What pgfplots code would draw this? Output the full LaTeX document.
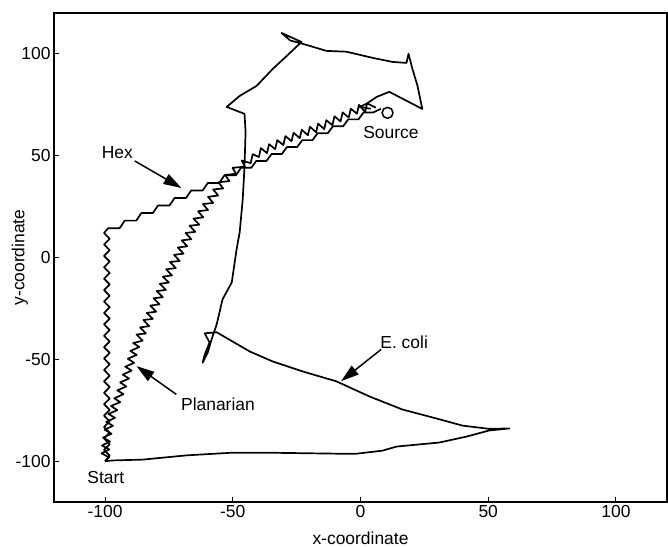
\documentclass[border=0pt]{standalone}
\usepackage{fontspec}
\setmainfont{Liberation Sans}
\usepackage{pgfplots}
\pgfplotsset{compat=1.18}
\usetikzlibrary{arrows.meta}
\begin{document}
\begin{tikzpicture}[font=\fontsize{17.5}{20}\selectfont]
\path[use as bounding box] (-54bp,-45bp) rectangle (614bp,502bp);
\begin{axis}[
  scale only axis, width=613bp, height=489bp,
  xmin=-120, xmax=120, ymin=-120, ymax=120,
  xtick={-100,-50,0,50,100}, ytick={-100,-50,0,50,100},
  tick pos=left, tick align=inside, major tick length=5bp,
  axis line style={line width=1.2pt},
  tick style={line width=1pt, black},
  /pgf/number format/assume math mode=true,
  tick label style={font=\fontsize{17.5}{20}\selectfont},
  xlabel={x-coordinate}, ylabel={y-coordinate},
  label style={font=\fontsize{17.5}{20}\selectfont},
  xlabel style={at={(axis description cs:0.5,-0.074)}, anchor=center},
  ylabel style={at={(axis description cs:-0.0555,0.5)}, anchor=center},
  every axis plot/.append style={black, line width=1.7pt, line join=round},
]
% E. coli
\addplot[no marks] coordinates {
(-100,-100) (-97,-99.6) (-85.3,-99.2) (-68,-97.1) (-50.1,-95.8) (-36.8,-95.8)
(-8.2,-96.3) (-1.6,-96.3) (8.6,-94.8) (14.1,-92.8) (30.9,-90.8) (41.5,-87.9)
(50.4,-84.9) (58.3,-83.9) (50.4,-84.1) (39.9,-82.5) (29.7,-79.0) (16.4,-74.6)
(3.5,-68.2) (-9.4,-60.8) (-22.7,-55.9) (-34.4,-51.0) (-43.4,-46.1) (-56.3,-36.7)
(-61.0,-37.2) (-59.1,-41.7) (-61.0,-47.7) (-61.8,-51.6) (-59.8,-46.6) (-58.3,-40.2)
(-56.3,-32.8) (-54.0,-20.5) (-50.4,-12.2) (-48.5,4.1) (-47.3,12.4) (-46.1,28.7)
(-45.4,44.9) (-45.0,61.6) (-45.4,70.5) (-52.4,73.9) (-47.3,79.3) (-40.7,84.2)
(-34.4,92.5) (-28.9,98.9) (-23.1,105.8) (-30.9,110.2) (-27.5,106.5) (-23.5,105.2)
(-13.3,101.4) (-5.5,101.0) (4.7,98.0) (12.5,96.0) (18.0,95.5) (18.8,100)
(20.3,92.7) (22.3,84.3) (24.2,72.9) (11.3,81.3) (6.3,78.8) (2.3,75.4) (-0.4,73.9) (4,73)
};
% Hex
\addplot[no marks] coordinates {
(-100,-100) (-98.2,-97.2) (-100.4,-94.4) (-98.2,-91.6) (-100.4,-88.8) (-98.2,-86.0)
(-100.4,-83.2) (-98.2,-80.4) (-100.4,-77.6) (-98.2,-74.8) (-100.4,-72.0) (-98.2,-69.2)
(-100.4,-66.4) (-98.2,-63.6) (-100.4,-60.8) (-98.2,-58.0) (-100.4,-55.2) (-98.2,-52.4)
(-100.4,-49.6) (-98.2,-46.8) (-100.4,-44.0) (-98.2,-41.2) (-100.4,-38.4) (-98.2,-35.6)
(-100.4,-32.8) (-98.2,-30.0) (-100.4,-27.2) (-98.2,-24.4) (-100.4,-21.6) (-98.2,-18.8)
(-100.4,-16.0) (-98.2,-13.2) (-100.4,-10.4) (-98.2,-7.6) (-100.4,-4.8) (-98.2,-2.0)
(-100.4,0.8) (-98.2,3.6) (-100.4,6.4) (-98.2,9.2) (-100.4,12.0)
(-98.8,14.4) (-94.3,14.4) (-92.3,18.1) (-87.8,18.1) (-85.8,21.8) (-81.3,21.8)
(-79.3,25.5) (-74.8,25.5) (-72.8,29.2) (-68.3,29.2) (-66.3,32.9) (-61.8,32.9)
(-59.8,36.6) (-55.3,36.6) (-53.3,40.3) (-48.8,40.3) (-46.8,44.0)
(-42.8,44.0) (-40.8,47.4) (-36.8,47.4) (-34.8,50.8) (-30.8,50.8) (-28.8,54.2)
(-24.8,54.2) (-22.8,57.6) (-18.8,57.6) (-16.8,61.0) (-12.8,61.0) (-10.8,64.4)
(-6.8,64.4) (-4.8,67.8) (-0.8,67.8) (1.2,71.2) (5,71.2) (8,73)
};
% Planarian
\addplot[no marks] coordinates {
(-100,-100) (-98.4,-98.1) (-101.4,-96.1) (-98.3,-94.2) (-101.2,-92.3) (-98.1,-90.3)
(-100.8,-88.4) (-97.5,-86.5) (-100.2,-84.5) (-96.9,-82.6) (-99.6,-80.7) (-96.1,-78.7)
(-98.7,-76.8) (-95.2,-74.9) (-97.7,-72.9) (-94.1,-71.0) (-96.4,-69.1) (-92.8,-67.1)
(-95.2,-65.2) (-91.7,-63.3) (-94.1,-61.3) (-90.6,-59.4) (-93.1,-57.5) (-89.6,-55.5)
(-92.1,-53.6) (-88.6,-51.7) (-91.1,-49.7) (-87.6,-47.8) (-90.1,-45.9) (-86.6,-43.9)
(-89.0,-42.0)
(-85.3,-40.8) (-87.7,-37.8) (-84.0,-37.3) (-86.3,-34.3) (-82.7,-33.7) (-85.0,-30.7)
(-81.3,-30.1) (-83.7,-27.2) (-80.0,-26.6) (-82.3,-23.6) (-78.7,-23.0) (-81.0,-20.0)
(-77.4,-19.5) (-79.8,-16.5) (-76.2,-15.9) (-78.6,-12.9) (-75.0,-12.3) (-77.4,-9.4)
(-73.8,-8.8) (-76.1,-5.8) (-72.3,-5.2) (-74.6,-2.2) (-70.8,-1.7) (-73.0,1.3)
(-69.3,1.9) (-71.5,4.9) (-67.8,5.5) (-70.0,8.4) (-66.2,9.0) (-68.5,12.0)
(-64.7,12.6) (-66.9,15.6) (-63.1,16.1) (-65.4,19.1) (-61.6,19.7) (-63.6,22.7)
(-59.7,23.3) (-61.7,26.2) (-57.7,26.8) (-59.7,29.8) (-55.7,30.4) (-57.7,33.4)
(-53.8,33.9) (-55.6,36.9) (-51.3,37.5) (-53.0,40.5) (-48.7,41.1) (-50.1,44.0)
(-45.3,44.6) (-46.5,47.6)
(-43.0,46.3) (-42.2,50.7) (-39.8,49.3) (-39.0,53.7) (-36.6,51.2) (-35.8,55.6)
(-33.4,53.2) (-32.6,57.6) (-30.2,55.2) (-29.4,59.6) (-27.0,57.1) (-26.2,61.2)
(-23.8,58.6) (-23.0,62.7) (-20.6,60.0) (-19.8,64.2) (-17.4,61.5) (-16.6,65.7)
(-14.2,63.0) (-13.4,67.4) (-11.0,64.9) (-10.2,69.3) (-7.8,66.8) (-7.0,71.2)
(-4.6,68.7) (-3.8,73.0) (-1.4,70.6) (-0.6,74.9) (1.8,71.4) (2.6,75.7) (6,73.5)
};
% Source
\addplot[only marks, mark=o, mark size=5.5pt, mark options={line width=1.5pt}] coordinates {(10.6,71)};
% annotations
\draw[line width=1.5pt, -{Triangle[length=18bp,width=11bp]}] (axis cs:-88.4,47.4) -- (axis cs:-70.1,34.1);
\draw[line width=1.5pt, -{Triangle[length=18bp,width=11bp]}] (axis cs:-72.1,-67.2) -- (axis cs:-87.7,-53.3);
\draw[line width=1.5pt, -{Triangle[length=18bp,width=11bp]}] (axis cs:8.1,-45.1) -- (axis cs:-7.6,-60.7);
\node at (axis cs:-95.2,51.3) {Hex};
\node at (axis cs:-55.8,-72.2) {Planarian};
\node at (axis cs:17.1,-41.5) {E. coli};
\node at (axis cs:11.9,61.5) {Source};
\node at (axis cs:-99.7,-108.2) {Start};
\end{axis}
\end{tikzpicture}
\end{document}
